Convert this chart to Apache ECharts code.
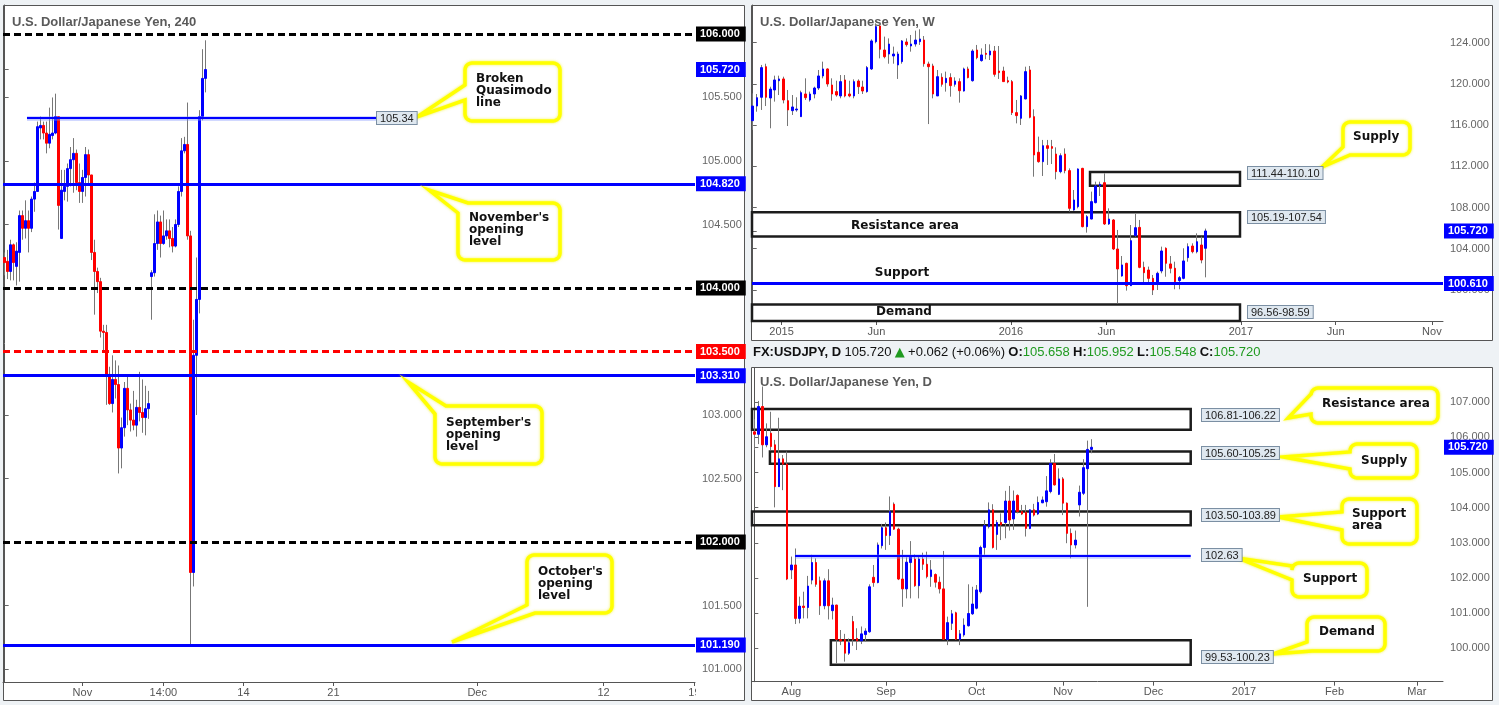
<!DOCTYPE html>
<html><head><meta charset="utf-8">
<script src="https://cdn.jsdelivr.net/npm/echarts@6/dist/echarts.min.js"></script>
<style>html,body{margin:0;padding:0;background:#eef2f5;}#c{width:1499px;height:705px;}</style>
</head><body><div id="c"></div>
<script>
// ---------------- DATA ----------------
// 4H candles [open, close, low, high]
const h4Candles = [
[104.24,104.20,104.10,104.28],[104.21,104.13,104.07,104.30],[104.13,104.34,104.06,104.38],[104.34,104.20,104.06,104.35],
[104.17,104.29,104.02,104.36],[104.28,104.57,104.05,104.61],[104.57,104.47,104.38,104.61],[104.47,104.53,104.39,104.69],
[104.53,104.47,104.28,104.61],[104.47,104.70,104.44,104.72],[104.70,104.76,104.60,104.83],[104.76,105.27,104.76,105.31],
[105.26,105.28,105.17,105.35],[105.28,105.22,105.17,105.31],[105.22,105.14,105.06,105.31],[105.14,105.21,105.10,105.42],
[105.20,105.22,105.17,105.50],[105.22,105.35,105.21,105.53],[105.35,104.65,104.46,105.35],[104.39,104.77,104.39,104.93],
[104.76,104.80,104.69,104.93],[104.80,104.94,104.68,104.98],[104.94,105.01,104.80,105.11],[105.01,105.06,104.75,105.18],
[105.06,104.83,104.77,105.09],[104.83,104.76,104.67,104.98],[104.76,104.87,104.67,104.93],[104.87,105.05,104.72,105.11],
[105.05,104.89,104.81,105.09],[104.89,104.28,104.22,104.89],[104.28,104.13,103.79,104.38],[104.13,104.05,103.96,104.16],
[104.05,103.66,103.61,104.08],[103.66,103.65,103.51,103.71],[103.65,103.32,103.08,103.71],[103.32,103.09,103.08,103.38],
[103.09,103.28,103.02,103.47],[103.28,103.24,103.13,103.43],[103.24,102.74,102.54,103.39],[102.74,102.90,102.58,102.98],
[102.90,103.21,102.83,103.26],[103.21,103.04,102.92,103.31],[103.04,102.96,102.87,103.09],[102.96,102.92,102.88,103.19],
[102.92,103.06,102.83,103.12],[103.06,103.02,102.95,103.34],[103.02,102.98,102.86,103.28],[102.98,103.05,102.84,103.23],
[103.05,103.09,102.97,103.19],[104.09,104.12,103.75,104.14],[104.12,104.35,104.09,104.58],[104.35,104.52,104.30,104.61],
[104.52,104.35,104.24,104.57],[104.35,104.41,104.34,104.61],[104.41,104.45,104.38,104.54],[104.45,104.39,104.32,104.54],
[104.39,104.33,104.28,104.48],[104.33,104.50,104.32,104.54],[104.50,104.76,104.48,104.80],[104.76,105.08,104.72,105.18],
[105.08,105.13,105.06,105.19],[105.13,104.41,104.38,105.46],[104.41,101.76,101.18,104.45],[101.76,103.47,101.65,103.75],
[103.47,103.91,103.00,104.24],[103.91,105.35,103.80,105.40],[105.35,105.65,105.32,105.88],[105.65,105.72,105.54,105.95]
];
// Weekly candles [open, close, low, high]
const weeklyCandles = [
[116.43,117.85,115.53,119.08],[117.85,118.66,117.30,119.02],[118.70,121.58,117.47,121.84],[121.67,118.70,117.85,121.96],
[118.63,119.50,115.69,119.73],[119.41,120.38,118.28,120.80],[120.31,120.48,118.92,120.80],[120.48,118.44,118.11,120.70],
[118.37,117.47,115.91,119.41],[117.40,117.76,116.98,118.92],[117.47,117.56,117.30,118.70],[116.82,119.15,116.82,119.34],
[119.02,118.66,118.44,120.54],[118.44,119.02,118.28,119.25],[119.02,119.60,118.60,119.73],[119.60,120.77,119.41,121.35],
[120.77,121.45,120.54,122.16],[121.45,119.99,119.73,121.51],[119.89,119.02,118.37,120.54],[119.25,118.92,118.76,120.31],
[118.83,120.22,118.60,120.86],[120.38,118.83,118.70,120.86],[119.02,118.83,118.70,120.31],[118.83,120.22,118.60,120.44],
[120.28,119.73,119.02,120.44],[119.70,119.31,119.02,120.31],[119.25,121.58,119.15,121.74],[121.45,124.17,121.35,124.33],
[124.10,125.56,123.94,125.88],[125.62,123.36,122.48,125.88],[123.29,122.64,122.48,124.59],[122.90,123.87,121.96,124.42],
[122.71,122.90,121.96,123.62],[121.84,122.90,120.48,123.13],[122.16,124.17,121.96,124.26],[124.07,123.81,123.62,124.42],
[123.68,123.87,123.13,124.75],[123.87,124.26,123.62,125.17],[124.10,124.36,123.78,125.30],[124.26,121.96,121.67,124.65],
[121.93,121.67,116.10,122.16],[121.74,119.02,118.60,121.96],[118.83,120.70,118.83,121.35],[120.64,119.96,119.73,121.03],
[120.12,120.54,119.25,121.19],[120.61,119.83,118.76,121.03],[119.96,120.28,119.73,120.64],[120.22,119.34,118.18,120.54],
[119.31,121.45,119.25,121.58],[121.45,120.61,120.54,121.67],[120.31,123.19,120.22,123.36],[123.29,122.55,122.39,123.78],
[122.26,122.81,122.16,123.45],[122.97,122.87,122.39,123.87],[122.81,123.19,122.32,123.84],[123.19,120.93,120.70,123.68],
[121.25,121.09,120.48,123.68],[121.25,120.22,120.22,121.67],[120.31,120.19,120.06,120.70],[120.22,117.21,116.98,120.38],
[117.21,116.92,116.17,118.44],[116.66,118.83,116.01,118.92],[118.54,121.19,118.50,121.67],[121.35,116.76,116.66,121.74],
[116.82,113.10,110.99,117.53],[113.36,112.45,112.35,114.88],[112.45,114.00,111.06,114.56],[114.00,113.74,112.13,114.56],
[113.91,113.74,112.22,114.56],[113.19,111.48,110.73,113.84],[111.48,113.03,111.32,113.26],[113.19,111.58,111.32,113.74],
[111.58,107.92,107.60,111.80],[107.76,108.73,107.69,109.70],[108.08,111.74,107.92,111.80],[111.80,106.14,106.07,111.85],
[106.14,107.11,105.56,107.27],[106.88,108.57,106.85,109.54],[108.47,110.09,108.40,110.51],[110.09,110.25,109.12,110.51],
[110.41,106.40,106.30,111.32],[106.40,106.88,106.30,107.92],[106.79,103.97,103.87,106.88],[103.97,102.03,98.70,105.82],
[101.35,102.42,101.28,103.29],[102.58,100.41,99.93,102.64],[100.41,104.78,100.38,106.30],[105.27,106.04,105.17,107.37],
[106.07,102.19,102.10,106.79],[102.19,101.67,100.64,102.74],[101.93,101.12,100.64,102.26],[101.12,99.99,99.50,101.45],
[100.57,101.61,99.99,101.77],[101.84,103.78,101.61,104.20],[104.04,102.58,101.28,104.13],[102.52,102.10,101.61,103.29],
[102.10,100.80,100.06,102.74],[100.90,101.19,100.06,101.35],[101.12,102.81,101.03,104.04],[103.13,104.20,102.74,104.52],
[104.26,103.71,103.55,104.52],[103.71,104.68,103.55,105.49],[104.36,102.90,102.58,105.17],[104.04,105.72,101.22,105.95]
];
// Daily candles [open, close, low, high]
const dailyCandles = [
[106.16,106.09,105.64,106.52],[106.09,106.88,105.81,107.04],[106.88,105.79,105.43,107.45],[105.79,106.02,105.72,106.40],
[106.12,105.74,105.64,106.73],[105.79,104.60,104.01,105.93],[104.60,105.39,104.59,106.56],[105.39,105.24,104.50,105.50],
[105.24,101.97,101.94,105.60],[102.23,102.37,101.97,102.61],[102.37,100.85,100.69,102.84],[100.85,101.20,100.71,101.47],
[101.20,101.16,100.85,101.61],[101.16,101.77,100.85,102.06],[101.94,102.44,101.82,102.66],[102.44,101.82,101.75,102.56],
[101.92,101.21,100.95,102.04],[101.21,101.92,101.11,101.99],[101.92,101.21,100.82,102.25],[101.07,101.23,100.82,101.44],
[101.23,100.25,99.57,101.24],[100.25,100.21,100.09,100.52],[100.25,99.86,99.62,100.41],[99.86,100.16,99.81,100.28],
[100.76,100.25,100.07,100.92],[100.28,100.21,99.95,100.57],[100.21,100.41,100.12,100.62],[100.39,100.49,100.19,100.57],
[100.47,101.75,100.44,101.82],[102.02,101.87,101.75,102.37],[101.87,102.94,101.85,103.01],[102.92,103.43,102.84,103.54],
[103.43,103.21,102.80,103.58],[103.21,103.89,102.94,104.32],[104.10,103.39,103.37,104.15],[103.39,101.97,101.94,103.43],
[101.97,101.69,101.18,102.80],[101.69,102.45,101.42,102.59],[102.44,102.61,101.42,103.05],[102.54,101.78,101.75,102.67],
[101.78,102.54,101.42,102.61],[102.54,102.39,102.23,102.72],[102.39,102.04,101.99,102.75],[102.04,102.23,101.75,102.51],
[102.10,101.88,101.73,102.13],[101.88,101.69,101.56,102.04],[101.69,100.26,100.24,102.77],[100.25,100.73,100.09,100.90],
[100.71,100.98,100.52,101.09],[101.01,100.26,100.24,101.04],[100.25,100.41,100.09,100.52],[100.38,100.66,100.33,100.85],
[100.64,100.99,100.62,101.82],[100.98,101.26,100.95,101.75],[101.14,101.66,101.11,101.80],[101.61,102.87,101.56,102.92],
[102.87,103.49,102.66,103.65],[103.46,103.94,103.41,104.15],[103.94,102.87,102.84,104.10],[103.24,103.58,102.80,103.65],
[103.58,103.51,103.08,103.84],[103.58,104.19,103.13,104.48],[104.19,103.65,103.35,104.62],[103.68,104.19,103.37,104.49],
[104.35,103.89,103.84,104.38],[103.89,103.82,103.79,104.08],[103.87,103.41,103.18,104.08],[103.41,103.94,103.39,103.95],
[103.94,103.79,103.75,104.11],[103.82,104.15,103.79,104.32],[104.14,104.22,104.13,104.32],[104.17,104.48,104.03,104.90],
[104.46,105.26,104.41,105.38],[105.26,104.65,104.63,105.53],[104.38,104.82,104.36,105.12],[104.82,104.13,103.79,104.87],
[104.13,103.27,102.99,104.15],[103.27,102.94,102.56,103.41],[102.94,103.08,102.84,103.35],[104.08,104.44,103.75,104.63],
[104.41,105.14,104.36,105.38],[105.11,105.66,101.18,105.91],[105.66,105.72,105.55,105.95]
];
// Tick labels
const h4TickPos = [25.9, 52.9, 79.6, 109.6, 157.5, 199.6, 229.9];
const h4TickText = ['Nov','14:00','14','21','Dec','12','19'];
const weeklyTickPos = [6.57, 28.14, 58.71, 80.43, 111.0, 132.57, 154.43];
const weeklyTickText = ['2015','Jun','2016','Jun','2017','Jun','Nov'];
const dailyTickPos = [9, 32, 54, 75, 97, 119, 141, 161];
const dailyTickText = ['Aug','Sep','Oct','Nov','Dec','2017','Feb','Mar'];
const h4PriceTicks = [101, 101.5, 102.5, 103, 104.5, 105, 105.5];
const weeklyPriceTicks = [100, 104, 108, 112, 116, 120, 124];
const dailyPriceTicks = [100, 101, 102, 103, 104, 105, 106, 107];
// Levels
const h4RoundLevels = [106.0, 104.0, 102.0];
const h4RedLevels = [103.5];
const h4MonthlyOpens = [104.82, 103.31, 101.19];
const h4Quasimodo = 105.34;
const lastPrice = 105.72;
const weeklySupport = 100.61;
const weeklyZones = [[111.44, 110.10], [105.19, 107.54], [96.56, 98.59]];
const dailyZones = [[106.81, 106.22], [105.60, 105.25], [103.50, 103.89], [99.53, 100.23]];
const dailySupport = 102.63;
const dailyQuote = {last: 105.720, change: 0.062, pct: 0.06, open: 105.658, high: 105.952, low: 105.548, close: 105.720};

// ---------------- STYLE / LAYOUT ----------------
const BLUE = '#0000ff', RED = '#ff0000', WICK = '#777777';
const AXC = '#555';
const RICH = {
  g: {color: '#666', fontSize: 11, fontFamily: 'Liberation Sans, Arial', padding: [0, 0, 0, 6]},
  blue: {color: '#fff', backgroundColor: BLUE, fontSize: 11, fontWeight: 'bold', fontFamily: 'Liberation Sans, Arial', padding: [2, 6, 2, 4]},
  black: {color: '#fff', backgroundColor: '#000', fontSize: 11, fontWeight: 'bold', fontFamily: 'Liberation Sans, Arial', padding: [2, 6, 2, 4]},
  red: {color: '#fff', backgroundColor: RED, fontSize: 11, fontWeight: 'bold', fontFamily: 'Liberation Sans, Arial', padding: [2, 6, 2, 4]}
};
function priceAxis(gi, min, max, ticks, specials) {
  const vals = ticks.concat(specials.map(s => s.v));
  return {
    type: 'value', gridIndex: gi, position: 'right', min, max,
    axisLine: {show: true, lineStyle: {color: AXC, width: 1}},
    axisTick: {show: true, length: 4, lineStyle: {color: '#666'}, customValues: vals},
    splitLine: {show: false},
    axisLabel: {
      customValues: vals, margin: 1, rich: RICH,
      formatter: v => { const s = specials.find(s => Math.abs(s.v - v) < 1e-9); return '{' + (s ? s.style : 'g') + '|' + v.toFixed(3) + '}'; }
    }
  };
}
function timeAxis(gi, min, max, pos, text) {
  return {
    type: 'value', gridIndex: gi, min, max,
    axisLine: {show: true, onZero: false, lineStyle: {color: AXC}},
    axisTick: {show: true, length: 4, customValues: pos, lineStyle: {color: AXC}},
    splitLine: {show: false},
    axisLabel: {customValues: pos, margin: 5, color: '#555', fontSize: 11, fontFamily: 'Liberation Sans, Arial',
      formatter: v => text[pos.findIndex(p => Math.abs(p - v) < 1e-6)]}
  };
}
function candleSeries(gi, candles, extra) {
  const wick = candles.map((c, i) => [i, c[0], c[1], c[2], c[3]]);
  const body = candles.map((c, i) => [i, c[0], c[1], Math.min(c[0], c[1]), Math.max(c[0], c[1])]);
  return [
    {type: 'candlestick', xAxisIndex: gi, yAxisIndex: gi, data: wick, barWidth: 1, silent: true,
     itemStyle: {color: WICK, color0: WICK, borderColor: WICK, borderColor0: WICK, borderWidth: 1}},
    Object.assign({type: 'candlestick', xAxisIndex: gi, yAxisIndex: gi, data: body, barWidth: 2, silent: true,
     itemStyle: {color: BLUE, color0: RED, borderColor: BLUE, borderColor0: RED, borderWidth: 1}}, extra)
  ];
}
const zoneStyle = {color: 'rgba(0,0,0,0)', borderColor: '#1c1c1c', borderWidth: 2.5};
const X4 = [-0.557, 230.1], XW = [-0.16, 156.96], XD = [-0.559, 167.36];

const h4Extra = {
  markLine: {symbol: 'none', silent: true, label: {show: false}, animation: false, data: [
    ...h4RoundLevels.map(v => ({yAxis: v, lineStyle: {color: '#000', width: 3, type: [7, 4]}})),
    ...h4RedLevels.map(v => ({yAxis: v, lineStyle: {color: RED, width: 3, type: [7, 4]}})),
    ...h4MonthlyOpens.map(v => ({yAxis: v, lineStyle: {color: BLUE, width: 3, type: 'solid'}})),
    [{coord: [7.44, h4Quasimodo], lineStyle: {color: 'rgba(120,140,255,0.45)', width: 4.5, type: 'solid'}}, {coord: [124.1, h4Quasimodo]}],
    [{coord: [7.44, h4Quasimodo], lineStyle: {color: BLUE, width: 2, type: 'solid'}}, {coord: [124.1, h4Quasimodo]}]
  ]}
};
const wZoneX = [[76.7, 110.8], [XW[0], 110.8], [XW[0], 110.8]];
const wExtra = {
  markLine: {symbol: 'none', silent: true, label: {show: false}, animation: false, data: [
    {yAxis: weeklySupport, lineStyle: {color: BLUE, width: 3, type: 'solid'}}
  ]},
  markArea: {silent: true, label: {show: false}, itemStyle: zoneStyle, data:
    weeklyZones.map((z, k) => [{coord: [wZoneX[k][0], Math.max(z[0], z[1])]}, {coord: [wZoneX[k][1], Math.min(z[0], z[1])]}])}
};
const dZoneX = [[XD[0], 106.05], [3.8, 106.05], [XD[0], 106.05], [18.6, 106.05]];
const dExtra = {
  markLine: {symbol: 'none', silent: true, label: {show: false}, animation: false, data: [
    [{coord: [9.9, dailySupport], lineStyle: {color: 'rgba(120,140,255,0.4)', width: 4.5, type: 'solid'}}, {coord: [106.05, dailySupport]}],
    [{coord: [9.9, dailySupport], lineStyle: {color: BLUE, width: 2, type: 'solid'}}, {coord: [106.05, dailySupport]}]
  ]},
  markArea: {silent: true, label: {show: false}, itemStyle: zoneStyle, data:
    dailyZones.map((z, k) => [{coord: [dZoneX[k][0], Math.max(z[0], z[1])]}, {coord: [dZoneX[k][1], Math.min(z[0], z[1])]}])}
};

// ---------- callouts ----------
function arcPts(cx, cy, r, t0, t1) {
  const p = []; for (let k = 0; k <= 5; k++) { const t = t0 + (t1 - t0) * k / 5; p.push([cx + r * Math.cos(t), cy + r * Math.sin(t)]); } return p;
}
function calloutPts(b, w) {
  const [x, y, W, H] = b, r = 7, P = Math.PI;
  const TL = arcPts(x + r, y + r, r, P, 1.5 * P), TR = arcPts(x + W - r, y + r, r, 1.5 * P, 2 * P),
        BR = arcPts(x + W - r, y + H - r, r, 0, 0.5 * P), BL = arcPts(x + r, y + H - r, r, 0.5 * P, P);
  if (w.type === 'left') return [...TL, ...TR, ...BR, ...BL, [x, w.b], w.tip, [x, w.a]];
  if (w.type === 'tl') return [[w.c, y], ...TR, ...BR, ...BL, [x, w.a], w.tip];
  return [...TL, ...TR, ...BR, [w.c, y + H], w.tip, [x, w.a]];
}
const callouts = [
  {text: 'Broken\nQuasimodo\nline', box: [465, 63, 95, 58], w: {type: 'left', a: 85, b: 100, tip: [417, 117]}, tx: 476, ty: 73},
  {text: "November's\nopening\nlevel", box: [458, 203, 102, 57], w: {type: 'tl', a: 213, c: 468, tip: [429, 190]}, tx: 469, ty: 212},
  {text: "September's\nopening\nlevel", box: [435, 406, 107, 58], w: {type: 'tl', a: 414, c: 446, tip: [408, 382]}, tx: 446, ty: 417},
  {text: "October's\nopening\nlevel", box: [527, 555, 85, 58], w: {type: 'bl', a: 605, c: 535, tip: [452, 642]}, tx: 538, ty: 566},
  {text: 'Supply', box: [1343, 122, 67, 33], w: {type: 'bl', a: 147, c: 1350, tip: [1322, 167]}, tx: 1353, ty: 131},
  {text: 'Resistance area', box: [1311, 388, 127, 35], w: {type: 'left', a: 394, b: 414, tip: [1288, 418]}, tx: 1322, ty: 398},
  {text: 'Supply', box: [1350, 444, 67, 34], w: {type: 'left', a: 452, b: 469, tip: [1283, 457]}, tx: 1361, ty: 455},
  {text: 'Support\narea', box: [1342, 499, 75, 45], w: {type: 'left', a: 512, b: 530, tip: [1278, 517]}, tx: 1352, ty: 508},
  {text: 'Support', box: [1292, 563, 75, 34], w: {type: 'left', a: 566, b: 580, tip: [1238, 558]}, tx: 1303, ty: 573},
  {text: 'Demand', box: [1307, 617, 78, 34], w: {type: 'bl', a: 642, c: 1312, tip: [1273, 654]}, tx: 1319, ty: 626}
];
const fmt2 = v => v.toFixed(2);
const tags = [
  {t: fmt2(h4Quasimodo), x: 377, y: 112},
  ...weeklyZones.map((z, k) => ({t: fmt2(z[0]) + '-' + fmt2(z[1]), x: 1248, y: [167, 211, 306][k]})),
  ...dailyZones.map((z, k) => ({t: fmt2(z[0]) + '-' + fmt2(z[1]), x: 1202, y: [409, 447, 509, 651][k]})),
  {t: fmt2(dailySupport), x: 1202, y: 549}
];
const CF = '"DejaVu Sans", Verdana, sans-serif';
const TF = 'Liberation Sans, Arial';
const graphics = [
  {type: 'rect', z: -1, shape: {x: 3.5, y: 5.5, width: 741, height: 695}, style: {fill: '#fff', stroke: '#555', lineWidth: 1}},
  {type: 'rect', z: -1, shape: {x: 751.5, y: 5.5, width: 741, height: 335}, style: {fill: '#fff', stroke: '#555', lineWidth: 1}},
  {type: 'rect', z: -1, shape: {x: 751.5, y: 367.5, width: 741, height: 333}, style: {fill: '#fff', stroke: '#555', lineWidth: 1}},
  {type: 'text', z: 1, x: 12, y: 16, style: {text: 'U.S. Dollar/Japanese Yen, 240', fill: '#5a5a5a', fontSize: 13, fontWeight: 'bold', fontFamily: TF}},
  {type: 'text', z: 1, x: 760, y: 16, style: {text: 'U.S. Dollar/Japanese Yen, W', fill: '#5a5a5a', fontSize: 13, fontWeight: 'bold', fontFamily: TF}},
  {type: 'text', z: 1, x: 760, y: 376, style: {text: 'U.S. Dollar/Japanese Yen, D', fill: '#5a5a5a', fontSize: 13, fontWeight: 'bold', fontFamily: TF}},
  {type: 'text', z: 1, x: 753, y: 346, style: {
    text: '{b|FX:USDJPY, D} {n|' + dailyQuote.last.toFixed(3) + '} {u|\u25B2} {n|+' + dailyQuote.change.toFixed(3) + ' (+' + dailyQuote.pct.toFixed(2) + '%)} ' +
          '{b|O:}{v|' + dailyQuote.open.toFixed(3) + '} {b|H:}{v|' + dailyQuote.high.toFixed(3) + '} {b|L:}{v|' + dailyQuote.low.toFixed(3) + '} {b|C:}{v|' + dailyQuote.close.toFixed(3) + '}',
    rich: {
      b: {fill: '#111', fontWeight: 'bold', fontSize: 13, fontFamily: TF},
      n: {fill: '#111', fontSize: 13, fontFamily: TF},
      u: {fill: '#1f9a1f', fontSize: 13, fontFamily: 'DejaVu Sans'},
      v: {fill: '#1f9a1f', fontSize: 13, fontFamily: TF}
    }}},
  {type: 'text', z: 12, x: 905, y: 226, style: {text: 'Resistance area', fill: '#111', fontSize: 12, fontWeight: 'bold', fontFamily: CF, align: 'center', verticalAlign: 'middle'}},
  {type: 'text', z: 12, x: 902, y: 273, style: {text: 'Support', fill: '#111', fontSize: 12, fontWeight: 'bold', fontFamily: CF, align: 'center', verticalAlign: 'middle'}},
  {type: 'text', z: 12, x: 904, y: 312, style: {text: 'Demand', fill: '#111', fontSize: 12, fontWeight: 'bold', fontFamily: CF, align: 'center', verticalAlign: 'middle'}},
  {type: 'rect', z: 20, shape: {x: 696, y: 684, width: 48, height: 15}, style: {fill: '#fff'}}
];
callouts.forEach(c => {
  graphics.push({type: 'polygon', z: 16, shape: {points: calloutPts(c.box, c.w)},
    style: {fill: '#fff', stroke: '#ffff00', lineWidth: 3.5, shadowBlur: 3, shadowColor: 'rgba(240,240,0,0.7)'}});
  graphics.push({type: 'text', z: 17, x: c.tx, y: c.ty, style: {text: c.text, fill: '#111', fontSize: 12, fontWeight: 'bold', fontFamily: CF, lineHeight: 12, verticalAlign: 'top'}});
});
tags.forEach(t => graphics.push({type: 'text', z: 18, x: t.x, y: t.y, style: {text: t.t, fill: '#222', fontSize: 11, fontFamily: TF,
  backgroundColor: '#dfe8f0', borderColor: '#7b8fa3', borderWidth: 1, padding: [1, 3, 0, 3]}}));

const option = {
  animation: false,
  backgroundColor: '#eef2f5',
  grid: [
    {left: 3, top: 5, width: 692, height: 677, containLabel: false},
    {left: 752, top: 5, width: 691, height: 316, containLabel: false},
    {left: 752, top: 368, width: 691, height: 313.7, containLabel: false}
  ],
  xAxis: [timeAxis(0, X4[0], X4[1], h4TickPos, h4TickText), timeAxis(1, XW[0], XW[1], weeklyTickPos, weeklyTickText), timeAxis(2, XD[0], XD[1], dailyTickPos, dailyTickText)],
  yAxis: [
    priceAxis(0, 100.898, 106.228, h4PriceTicks, [
      ...h4RoundLevels.map(v => ({v, style: 'black'})), ...h4RedLevels.map(v => ({v, style: 'red'})),
      ...h4MonthlyOpens.map(v => ({v, style: 'blue'})), {v: lastPrice, style: 'blue'}]),
    priceAxis(1, 96.98, 127.66, weeklyPriceTicks, [{v: weeklySupport, style: 'blue'}, {v: lastPrice, style: 'blue'}]),
    priceAxis(2, 99.049, 107.976, dailyPriceTicks, [{v: lastPrice, style: 'blue'}])
  ],
  graphic: {elements: graphics},
  series: [
    ...candleSeries(0, h4Candles, h4Extra),
    ...candleSeries(1, weeklyCandles, wExtra),
    ...candleSeries(2, dailyCandles, dExtra)
  ]
};
const chart = echarts.init(document.getElementById('c'));
chart.setOption(option);
</script>
</body></html>
